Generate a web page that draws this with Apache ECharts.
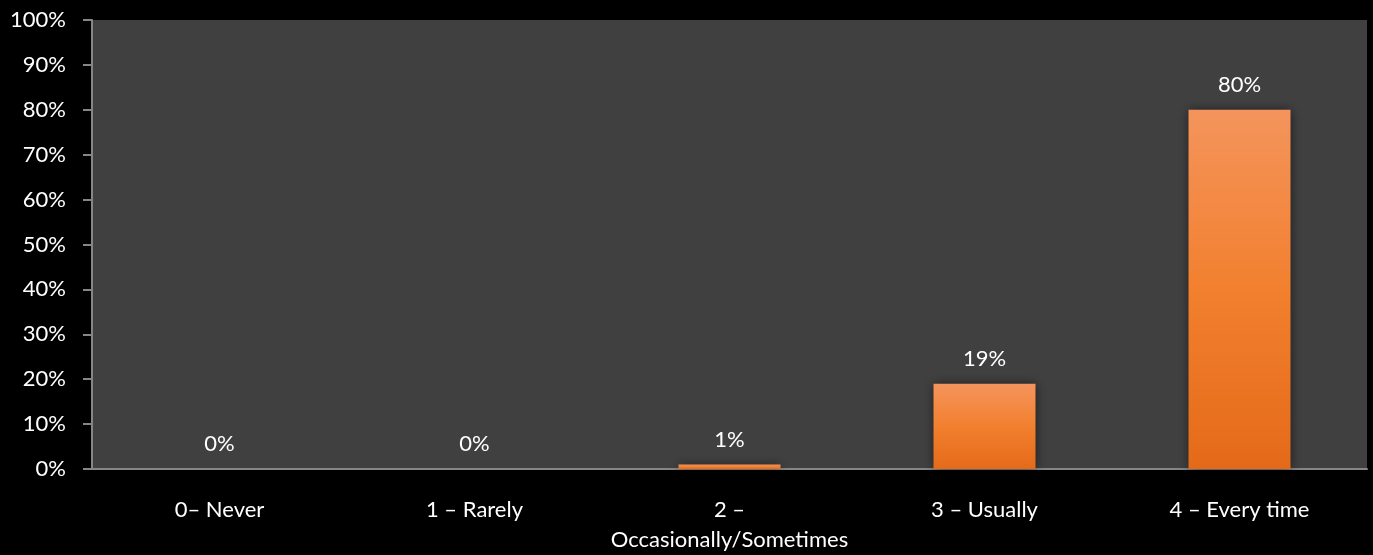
<!DOCTYPE html>
<html>
<head>
<meta charset="utf-8">
<script src="https://cdn.jsdelivr.net/npm/echarts@6/dist/echarts.min.js"></script>
<style>
html,body{margin:0;padding:0;background:#000;}
#c{width:1373px;height:555px;}
</style>
</head>
<body>
<div id="c"></div>
<script>
const categories = ["0\u2013 Never", "1 \u2013 Rarely", "2 \u2013\nOccasionally/Sometimes", "3 \u2013 Usually", "4 \u2013 Every time"];
const values = [0, 0, 1, 19, 80];
const yTicks = [0, 10, 20, 30, 40, 50, 60, 70, 80, 90, 100];

const FONT = "Lato";
const chart = echarts.init(document.getElementById('c'));
chart.setOption({
  backgroundColor: '#000000',
  animation: false,
  grid: {
    left: 92, right: 6, top: 20, bottom: 84,
    show: true, backgroundColor: '#404040', borderWidth: 0
  },
  xAxis: {
    type: 'category',
    data: categories,
    axisLine: { show: true, lineStyle: { color: '#868686', width: 2 } },
    axisTick: { show: false },
    axisLabel: {
      color: '#ffffff', fontFamily: FONT, fontSize: 22, margin: 26,
      lineHeight: 30, interval: 0
    },
    splitLine: { show: false }
  },
  yAxis: {
    type: 'value',
    min: yTicks[0], max: yTicks[yTicks.length - 1], interval: 10,
    axisLine: { show: true, lineStyle: { color: '#868686', width: 2 } },
    axisTick: { show: true, length: 9, lineStyle: { color: '#868686', width: 2 } },
    axisLabel: {
      color: '#ffffff', fontFamily: FONT, fontSize: 22, margin: 26,
      formatter: v => v + '%'
    },
    splitLine: { show: false }
  },
  series: [{
    type: 'bar',
    data: values,
    barWidth: '40%',
    itemStyle: {
      color: new echarts.graphic.LinearGradient(0, 0, 0, 1, [
        { offset: 0, color: '#F4945C' },
        { offset: 0.5, color: '#F2802F' },
        { offset: 1, color: '#E46A19' }
      ]),
      shadowColor: 'rgba(0,0,0,0.55)',
      shadowBlur: 10
    },
    label: {
      show: true, position: 'top', distance: 14,
      color: '#ffffff', fontFamily: FONT, fontSize: 22,
      formatter: p => p.value + '%'
    }
  }]
});
</script>
</body>
</html>
